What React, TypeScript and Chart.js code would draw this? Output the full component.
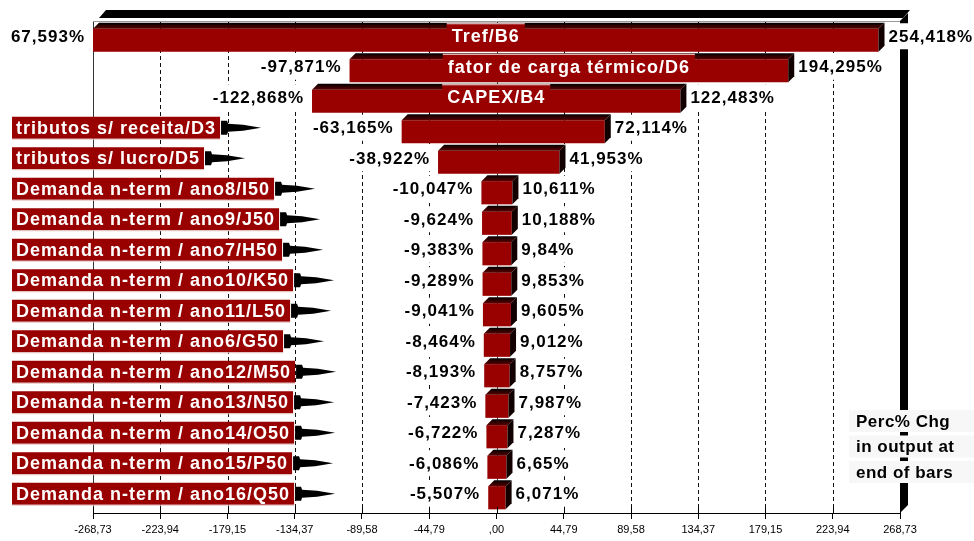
import React, { useEffect, useRef } from 'react';
import { Chart, registerables } from 'chart.js';

Chart.register(...registerables);

const categories = [
  'Tref/B6',
  'fator de carga térmico/D6',
  'CAPEX/B4',
  'tributos s/ receita/D3',
  'tributos s/ lucro/D5',
  'Demanda n-term / ano8/I50',
  'Demanda n-term / ano9/J50',
  'Demanda n-term / ano7/H50',
  'Demanda n-term / ano10/K50',
  'Demanda n-term / ano11/L50',
  'Demanda n-term / ano6/G50',
  'Demanda n-term / ano12/M50',
  'Demanda n-term / ano13/N50',
  'Demanda n-term / ano14/O50',
  'Demanda n-term / ano15/P50',
  'Demanda n-term / ano16/Q50',
];

const lowValues = [-268.73, -97.871, -122.868, -63.165, -38.922, -10.047, -9.624, -9.383, -9.289, -9.041, -8.464, -8.193, -7.423, -6.722, -6.086, -5.507];
const highValues = [254.418, 194.295, 122.483, 72.114, 41.953, 10.611, 10.188, 9.84, 9.853, 9.605, 9.012, 8.757, 7.987, 7.287, 6.65, 6.071];

const lowLabels = ['67,593%', '-97,871%', '-122,868%', '-63,165%', '-38,922%', '-10,047%', '-9,624%', '-9,383%', '-9,289%', '-9,041%', '-8,464%', '-8,193%', '-7,423%', '-6,722%', '-6,086%', '-5,507%'];
const highLabels = ['254,418%', '194,295%', '122,483%', '72,114%', '41,953%', '10,611%', '10,188%', '9,84%', '9,853%', '9,605%', '9,012%', '8,757%', '7,987%', '7,287%', '6,65%', '6,071%'];

const tickValues = [-268.73, -223.94, -179.15, -134.37, -89.58, -44.79, 0, 44.79, 89.58, 134.37, 179.15, 223.94, 268.73];
const tickLabels = ['-268,73', '-223,94', '-179,15', '-134,37', '-89,58', '-44,79', ',00', '44,79', '89,58', '134,37', '179,15', '223,94', '268,73'];

const legendLines = ['Perc% Chg', 'in output at', 'end of bars'];

const BAR_RED = '#990000';
const FONT = '"Liberation Sans", Arial, sans-serif';

function poly(ctx: CanvasRenderingContext2D, pts: number[][]) {
  ctx.beginPath();
  ctx.moveTo(pts[0][0], pts[0][1]);
  for (let i = 1; i < pts.length; i++) ctx.lineTo(pts[i][0], pts[i][1]);
  ctx.closePath();
  ctx.fill();
}

function line(ctx: CanvasRenderingContext2D, x1: number, y1: number, x2: number, y2: number) {
  ctx.beginPath();
  ctx.moveTo(x1, y1);
  ctx.lineTo(x2, y2);
  ctx.stroke();
}

const tornadoPlugin = {
  id: 'tornado3d',
  beforeDatasetsDraw(chart: any) {
    const { ctx, chartArea: a } = chart;
    const x = chart.scales.x;
    ctx.save();
    // dashed grid lines
    ctx.strokeStyle = '#111';
    ctx.lineWidth = 1;
    ctx.setLineDash([4, 3]);
    tickValues.forEach((v) => {
      if (v === 0 || Math.abs(v) > 268) return;
      const px = Math.round(x.getPixelForValue(v)) + 0.5;
      line(ctx, px, 21, px, a.bottom);
    });
    ctx.setLineDash([]);
    // zero line
    const zx = Math.round(x.getPixelForValue(0)) + 0.5;
    ctx.strokeStyle = '#444';
    line(ctx, zx, 21, zx, a.bottom);
    // plot box borders
    ctx.strokeStyle = '#333';
    line(ctx, Math.round(a.left) + 0.5, 21, Math.round(a.left) + 0.5, a.bottom);
    ctx.strokeStyle = '#999';
    line(ctx, a.left, 21.5, a.right, 21.5);
    // top face of the 3D box
    ctx.fillStyle = '#000';
    poly(ctx, [[a.left + 6, 18], [a.left + 13, 10], [a.right + 10, 10], [a.right + 3, 18]]);
    // right wall
    poly(ctx, [[a.right, 21], [a.right + 8, 13], [a.right + 8, a.bottom - 8], [a.right, a.bottom]]);
    ctx.restore();
  },
  afterDatasetsDraw(chart: any) {
    const { ctx, chartArea: a } = chart;
    const x = chart.scales.x;
    const meta = chart.getDatasetMeta(0);
    const d = 6;
    ctx.save();
    // tick marks above the axis
    ctx.strokeStyle = '#000';
    ctx.lineWidth = 1;
    tickValues.forEach((v) => {
      const px = Math.round(x.getPixelForValue(v)) + 0.5;
      line(ctx, px, a.bottom - 6, px, a.bottom);
    });

    meta.data.forEach((bar: any, i: number) => {
      const p = bar.getProps(['x', 'base', 'y', 'height'], true);
      const left = Math.min(p.x, p.base);
      const right = Math.max(p.x, p.base);
      const top = p.y - p.height / 2;
      const bottom = p.y + p.height / 2;
      // top face
      const g1 = ctx.createLinearGradient(0, top - d, 0, top);
      g1.addColorStop(0, '#000');
      g1.addColorStop(1, '#5a0000');
      ctx.fillStyle = g1;
      poly(ctx, [[left, top], [left + d, top - d], [right + d, top - d], [right, top]]);
      // side face
      ctx.fillStyle = '#120000';
      poly(ctx, [[right, top], [right + d, top - d], [right + d, bottom - d], [right, bottom]]);

      const cy = p.y - 4;
      // value labels
      ctx.font = `bold 17px ${FONT}`;
      (ctx as any).letterSpacing = '1px';
      ctx.textBaseline = 'middle';
      const lw = ctx.measureText(lowLabels[i]).width;
      const hw = ctx.measureText(highLabels[i]).width;
      const lRight = left - 8;
      const hLeft = right + 10;
      ctx.fillStyle = '#fff';
      ctx.fillRect(lRight - lw - 2, cy - 13, lw + 4, 26);
      ctx.fillRect(hLeft - 2, cy - 13, hw + 4, 26);
      ctx.fillStyle = '#000';
      ctx.textAlign = 'left';
      ctx.fillText(lowLabels[i], lRight - lw, cy + 1);
      ctx.fillText(highLabels[i], hLeft, cy + 1);

      // category label
      ctx.font = `bold 18px ${FONT}`;
      const tw = ctx.measureText(categories[i]).width;
      const inside = highValues[i] - lowValues[i] > 200;
      if (inside) {
        const cx = (left + right) / 2;
        const bx = cx - tw / 2 - 5;
        ctx.fillStyle = BAR_RED;
        ctx.fillRect(bx, cy - 13, tw + 10, 24);
        ctx.fillStyle = '#f4e4e4';
        ctx.fillRect(bx, cy - 13, tw + 10, 1);
        ctx.fillStyle = '#fff';
        ctx.fillText(categories[i], bx + 5, cy + 1);
      } else {
        const bx = 12;
        const bw = tw + 8;
        ctx.fillStyle = BAR_RED;
        ctx.fillRect(bx, cy - 11, bw, 22);
        ctx.fillStyle = '#e6c4c4';
        ctx.fillRect(bx, cy + 11, bw, 1);
        ctx.fillStyle = '#fff';
        ctx.fillText(categories[i], bx + 4, cy + 1);
        // arrow pointer
        const ax = bx + bw + 1;
        ctx.fillStyle = '#000';
        poly(ctx, [
          [ax, cy - 7], [ax + 6, cy - 7], [ax + 7, cy - 4], [ax + 22, cy - 3], [ax + 40, cy],
          [ax + 22, cy + 3], [ax + 7, cy + 4], [ax + 6, cy + 7], [ax, cy + 7],
        ]);
      }
    });

    // legend note
    ctx.font = `bold 17px ${FONT}`;
    (ctx as any).letterSpacing = '0.5px';
    ctx.textAlign = 'left';
    ctx.textBaseline = 'middle';
    legendLines.forEach((t, k) => {
      const cy = a.bottom - 92 + k * 25.5;
      ctx.fillStyle = '#f7f7f7';
      ctx.fillRect(849, cy - 11, 125, 22);
      ctx.fillStyle = '#000';
      ctx.fillText(t, 856, cy + 1);
    });
    (ctx as any).letterSpacing = '0px';
    ctx.restore();
  },
};

export default function App() {
  const ref = useRef<HTMLCanvasElement | null>(null);

  useEffect(() => {
    document.body.style.margin = '0';
    const canvas = ref.current;
    if (!canvas) return;
    const chart = new Chart(canvas, {
      type: 'bar',
      data: {
        labels: categories,
        datasets: [
          {
            data: lowValues.map((v, i) => [v, highValues[i]]) as any,
            backgroundColor: BAR_RED,
            borderWidth: 0,
            barPercentage: 0.76,
            categoryPercentage: 1,
          },
        ],
      },
      options: {
        indexAxis: 'y',
        responsive: false,
        animation: false,
        layout: { padding: { left: 93, right: 74, top: 25, bottom: 0 } },
        plugins: { legend: { display: false }, tooltip: { enabled: false }, title: { display: false } },
        scales: {
          x: {
            type: 'linear',
            min: -268.73,
            max: 268.73,
            afterBuildTicks: (scale: any) => {
              scale.ticks = tickValues.map((v) => ({ value: v }));
            },
            afterFit: (scale: any) => {
              scale.height = 28;
            },
            grid: { display: true, drawOnChartArea: false, drawTicks: true, tickLength: 6, color: '#000' },
            border: { display: true, color: '#000', width: 1 },
            ticks: {
              autoSkip: false,
              maxRotation: 0,
              padding: 4,
              color: '#000',
              font: { family: FONT, size: 11 },
              callback: (_v: any, i: number) => tickLabels[i],
            },
          },
          y: {
            type: 'category',
            display: false,
          },
        },
      },
      plugins: [tornadoPlugin],
    });
    return () => chart.destroy();
  }, []);

  return (
    <div style={{ width: 974, height: 541, background: '#fff' }}>
      <canvas ref={ref} width={974} height={541} />
    </div>
  );
}
